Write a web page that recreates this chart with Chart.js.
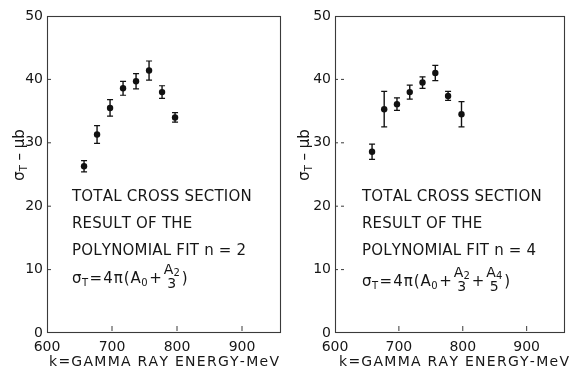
<!DOCTYPE html>
<html><head><meta charset="utf-8">
<script src="https://cdn.jsdelivr.net/npm/chart.js@4.4.1/dist/chart.umd.min.js"></script>
<style>
html,body{margin:0;padding:0;background:#fff;}
#wrap{position:relative;width:569px;height:374px;overflow:hidden;background:#fff;}
#c1{position:absolute;left:0;top:0;}
#c2{position:absolute;left:285px;top:0;}
</style></head><body>
<div id="wrap"><canvas id="c1" width="285" height="374"></canvas><canvas id="c2" width="284" height="374"></canvas></div>
<script>
// ---- data ----
const energyN2 = [657, 677, 697, 717, 737, 757, 777, 797];
const sigmaN2  = [26.3, 31.3, 35.5, 38.6, 39.7, 41.4, 38.0, 34.0];
const errN2    = [0.9, 1.4, 1.3, 1.1, 1.2, 1.5, 1.0, 0.75];
const energyN4 = [658, 677, 697, 717, 737, 757, 777, 798];
const sigmaN4  = [28.6, 35.3, 36.1, 38.0, 39.5, 41.0, 37.4, 34.5];
const errN4    = [1.2, 2.8, 1.0, 1.1, 0.9, 1.2, 0.7, 2.0];
const xTicks = [600, 700, 800, 900];
const yTicks = [0, 10, 20, 30, 40, 50];
const xRange = [600, 960];
const yRange = [0, 50];
const xTitle = 'k=GAMMA RAY ENERGY-MeV';
const notesN2 = ['TOTAL CROSS SECTION', 'RESULT OF THE', 'POLYNOMIAL FIT n = 2'];
const notesN4 = ['TOTAL CROSS SECTION', 'RESULT OF THE', 'POLYNOMIAL FIT n = 4'];
const formulaN2 = [{s:'σ'},{sub:'T'},{s:'='},{s:'4'},{s:'π'},{s:'('},{s:'A'},{sub:'0'},{s:'+'},{num:'A',numSub:'2',den:'3'},{s:')'}];
const formulaN4 = [{s:'σ'},{sub:'T'},{s:'='},{s:'4'},{s:'π'},{s:'('},{s:'A'},{sub:'0'},{s:'+'},{num:'A',numSub:'2',den:'3'},{s:'+'},{num:'A',numSub:'4',den:'5'},{s:')'}];

const FONT = '"DejaVu Sans", sans-serif';
const INK = '#161616';

function spacedText(ctx, text, x, y, sp) {
  for (const ch of text) { ctx.fillText(ch, x, y); x += ctx.measureText(ch).width + sp; }
  return x;
}
function spacedWidth(ctx, text, sp) {
  let w = 0; for (const ch of text) w += ctx.measureText(ch).width + sp; return w - sp;
}
function drawFormula(ctx, toks, x, base) {
  const big = '15px ' + FONT, small = '10px ' + FONT;
  ctx.textAlign = 'left'; ctx.textBaseline = 'alphabetic';
  for (const t of toks) {
    if (t.s) { ctx.font = big; ctx.fillText(t.s, x, base); x += ctx.measureText(t.s).width + 1.0; }
    else if (t.sub) { ctx.font = small; ctx.fillText(t.sub, x - 0.5, base + 3); x += ctx.measureText(t.sub).width + 1.0; }
    else if (t.num) {
      ctx.font = '14px ' + FONT; const wA = ctx.measureText(t.num).width;
      ctx.font = small; const wS = ctx.measureText(t.numSub).width;
      const w = wA + wS;
      ctx.font = '14px ' + FONT; ctx.fillText(t.num, x + 1, base - 9);
      ctx.font = small; ctx.fillText(t.numSub, x + 1 + wA, base - 7);
      ctx.font = '14px ' + FONT; const wd = ctx.measureText(t.den).width;
      ctx.fillText(t.den, x + 1 + (w - wd) / 2, base + 5);
      x += w + 3;
    }
  }
}

function makePanel(canvasId, energy, sigma, err, notes, formula, cfg) {
  const deco = {
    id: 'deco' + canvasId,
    afterDatasetsDraw(chart) {
      const ctx = chart.ctx, a = chart.chartArea;
      const xs = chart.scales.x, ys = chart.scales.y;
      ctx.save();
      // frame
      ctx.strokeStyle = '#3a3a3a'; ctx.lineWidth = 1.1;
      ctx.strokeRect(a.left + 0.5, a.top + 0.5, a.right - a.left - 1, a.bottom - a.top - 1);
      // inner ticks
      ctx.lineWidth = 1;
      yTicks.forEach(v => {
        if (v === yRange[0] || v === yRange[1]) return;
        const y = ys.getPixelForValue(v);
        ctx.beginPath();
        if (cfg.dashTicks) { ctx.moveTo(a.left, y); ctx.lineTo(a.left + 3, y); ctx.moveTo(a.left + 6, y); ctx.lineTo(a.left + 9, y); }
        else { ctx.moveTo(a.left, y); ctx.lineTo(a.left + 4, y); }
        ctx.stroke();
      });
      xTicks.forEach(v => {
        if (v === xRange[0]) return;
        const x = xs.getPixelForValue(v);
        ctx.beginPath(); ctx.moveTo(x, a.bottom - 2); ctx.lineTo(x, a.bottom - 7); ctx.stroke();
      });
      // error bars
      ctx.strokeStyle = '#111';
      for (let i = 0; i < energy.length; i++) {
        const x = xs.getPixelForValue(energy[i]);
        const y1 = ys.getPixelForValue(sigma[i] + err[i]);
        const y2 = ys.getPixelForValue(sigma[i] - err[i]);
        ctx.lineWidth = 1.4;
        ctx.beginPath(); ctx.moveTo(x, y1); ctx.lineTo(x, y2); ctx.stroke();
        ctx.lineWidth = 1.2;
        ctx.beginPath(); ctx.moveTo(x - 3, y1); ctx.lineTo(x + 3, y1);
        ctx.moveTo(x - 3, y2); ctx.lineTo(x + 3, y2); ctx.stroke();
      }
      // notes
      ctx.fillStyle = INK;
      ctx.font = '15px ' + FONT; ctx.textAlign = 'left'; ctx.textBaseline = 'alphabetic';
      notes.forEach((t, i) => spacedText(ctx, t, cfg.noteX, cfg.noteY[i], 0.2));
      drawFormula(ctx, formula, cfg.noteX, cfg.formulaY);
      // x title
      ctx.font = '14px ' + FONT; ctx.textAlign = 'left';
      const target = 230;
      const n = [...xTitle].length;
      const raw = spacedWidth(ctx, xTitle, 0);
      const sp = (target - raw) / (n - 1);
      const cx = (a.left + a.right) / 2 + cfg.titleShift;
      spacedText(ctx, xTitle, cx - target / 2, 366, sp);
      // y title (rotated)
      ctx.translate(19, 155); ctx.rotate(-Math.PI / 2);
      ctx.font = '15px ' + FONT;
      const w1 = ctx.measureText('σ').width;
      ctx.font = '10px ' + FONT; const w2 = ctx.measureText('T').width;
      ctx.font = '15px ' + FONT; const w3 = ctx.measureText(' – μb').width;
      let x0 = -(w1 + w2 + w3) / 2;
      ctx.fillText('σ', x0, 5); x0 += w1;
      ctx.font = '10px ' + FONT; ctx.fillText('T', x0, 8); x0 += w2;
      ctx.font = '15px ' + FONT; ctx.fillText(' – μb', x0, 5);
      ctx.restore();
    }
  };
  return new Chart(document.getElementById(canvasId), {
    type: 'scatter',
    data: { datasets: [{ data: energy.map((e, i) => ({ x: e, y: sigma[i] })),
      pointRadius: 3.2, pointBackgroundColor: '#111', pointBorderWidth: 0, showLine: false }] },
    options: {
      responsive: false, animation: false,
      layout: { padding: { top: 16, right: cfg.padRight, left: 0, bottom: 0 } },
      plugins: { legend: { display: false }, tooltip: { enabled: false } },
      scales: {
        x: { type: 'linear', min: xRange[0], max: xRange[1],
          afterBuildTicks: s => { s.ticks = xTicks.map(v => ({ value: v })); },
          afterFit: s => { s.height = 41; },
          grid: { display: false, drawTicks: false }, border: { display: false },
          ticks: { padding: 6, color: INK, font: { family: FONT, size: 14 }, maxRotation: 0, autoSkip: false } },
        y: { type: 'linear', min: yRange[0], max: yRange[1],
          afterBuildTicks: s => { s.ticks = yTicks.map(v => ({ value: v })); },
          afterFit: s => { s.width = cfg.yWidth; },
          grid: { display: false, drawTicks: false }, border: { display: false },
          ticks: { padding: 4, color: INK, font: { family: FONT, size: 14 } } }
      }
    },
    plugins: [deco]
  });
}

makePanel('c1', energyN2, sigmaN2, errN2, notesN2, formulaN2,
  { yWidth: 47, padRight: 3, noteX: 72, noteY: [201, 228, 255], formulaY: 283, dashTicks: false, titleShift: 0 });
makePanel('c2', energyN4, sigmaN4, errN4, notesN4, formulaN4,
  { yWidth: 50, padRight: 1, noteX: 77, noteY: [201, 228, 255], formulaY: 286, dashTicks: true, titleShift: 4 });
</script>
</body></html>
